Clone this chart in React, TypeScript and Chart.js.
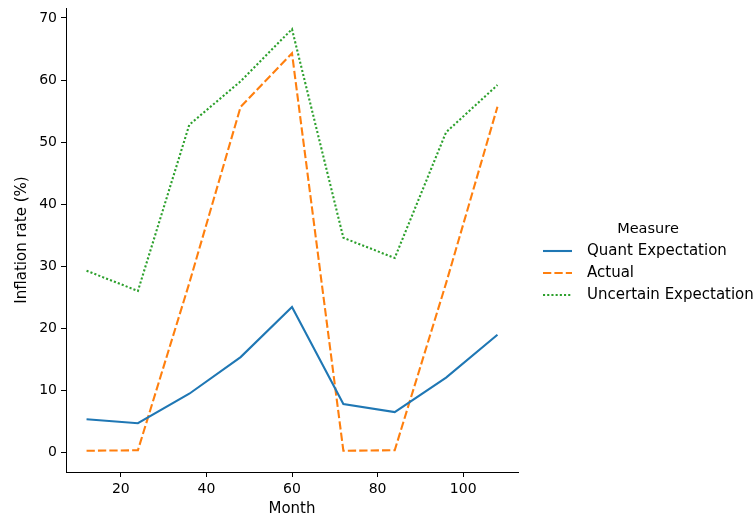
import React, { useEffect, useRef } from "react";
import { Chart, registerables } from "chart.js";

Chart.register(...registerables);

const months = [12, 24, 36, 48, 60, 72, 84, 96, 108];
const quantExpectation = [5.4, 4.76, 9.5, 15.4, 23.45, 7.83, 6.54, 12.1, 19.0];
const actual = [0.32, 0.4, 27.3, 55.7, 64.3, 0.32, 0.4, 27.3, 55.7];
const uncertainExpectation = [29.3, 26.05, 52.8, 59.8, 68.2, 34.6, 31.35, 51.6, 59.2];
const xTicks = [20, 40, 60, 80, 100];
const yTicks = [0, 10, 20, 30, 40, 50, 60, 70];
const seriesNames = ["Quant Expectation", "Actual", "Uncertain Expectation"];
const legendTitle = "Measure";

const FONT = "'DejaVu Sans', sans-serif";

const legendPlugin = {
  id: "customLegend",
  afterDraw(chart: any) {
    const ctx = chart.ctx;
    ctx.save();
    ctx.fillStyle = "#000";
    ctx.font = `14.5px ${FONT}`;
    ctx.textBaseline = "middle";
    ctx.textAlign = "center";
    ctx.fillText(legendTitle, 648, 229);
    ctx.textAlign = "left";
    ctx.font = `15px ${FONT}`;
    chart.data.datasets.forEach((ds: any, i: number) => {
      const y = 251 + i * 22;
      ctx.beginPath();
      ctx.strokeStyle = ds.borderColor;
      ctx.lineWidth = ds.borderWidth;
      ctx.lineCap = "butt";
      ctx.setLineDash(ds.borderDash || []);
      ctx.moveTo(543, y);
      ctx.lineTo(572, y);
      ctx.stroke();
      ctx.setLineDash([]);
      ctx.fillStyle = "#000";
      ctx.fillText(ds.label, 587, y);
    });
    ctx.restore();
  },
};

export default function App() {
  const ref = useRef<HTMLCanvasElement | null>(null);
  useEffect(() => {
    if (!ref.current) return;
    const mk = (vals: number[]) => months.map((m, i) => ({ x: m, y: vals[i] }));
    const chart = new Chart(ref.current, {
      type: "line",
      data: {
        datasets: [
          {
            label: seriesNames[0],
            data: mk(quantExpectation),
            borderColor: "#1f77b4",
            borderWidth: 2.1,
            pointRadius: 0,
            tension: 0,
          },
          {
            label: seriesNames[1],
            data: mk(actual),
            borderColor: "#ff7f0e",
            borderWidth: 2.1,
            borderDash: [8.3, 3.1],
            pointRadius: 0,
            tension: 0,
          },
          {
            label: seriesNames[2],
            data: mk(uncertainExpectation),
            borderColor: "#2ca02c",
            borderWidth: 2.1,
            borderDash: [2.1, 2.1],
            pointRadius: 0,
            tension: 0,
          },
        ],
      },
      options: {
        responsive: false,
        animation: false,
        layout: { padding: { top: 8, right: 238, bottom: 0, left: 0 } },
        plugins: { legend: { display: false }, tooltip: { enabled: false } },
        scales: {
          x: {
            type: "linear",
            min: 7.2,
            max: 112.8,
            afterBuildTicks: (s: any) => {
              s.ticks = xTicks.map((v) => ({ value: v }));
            },
            afterFit: (s: any) => {
              s.height = 48;
              s.paddingLeft = 0;
              s.paddingRight = 0;
            },
            grid: { drawOnChartArea: false, drawTicks: true, tickLength: 5, color: "#000" },
            border: { display: true, color: "#000", width: 1 },
            ticks: { color: "#000", font: { family: FONT, size: 14 }, padding: 4, maxRotation: 0 },
            title: {
              display: true,
              text: "Month",
              color: "#000",
              font: { family: FONT, size: 15 },
              padding: { top: 0, bottom: 2 },
            },
          },
          y: {
            type: "linear",
            min: -3.1,
            max: 71.6,
            afterBuildTicks: (s: any) => {
              s.ticks = yTicks.map((v) => ({ value: v }));
            },
            afterFit: (s: any) => {
              s.width = 66;
              s.paddingTop = 0;
              s.paddingBottom = 0;
            },
            grid: { drawOnChartArea: false, drawTicks: true, tickLength: 5, color: "#000" },
            border: { display: true, color: "#000", width: 1 },
            ticks: { color: "#000", font: { family: FONT, size: 14 }, padding: 4 },
            title: {
              display: true,
              text: "Inflation rate (%)",
              color: "#000",
              font: { family: FONT, size: 15 },
              padding: { top: 13, bottom: 0 },
            },
          },
        },
      },
      plugins: [legendPlugin],
    } as any);
    return () => chart.destroy();
  }, []);
  return (
    <div style={{ position: "absolute", left: 0, top: 0, width: 756, height: 520 }}>
      <canvas ref={ref} width={756} height={520} />
    </div>
  );
}
